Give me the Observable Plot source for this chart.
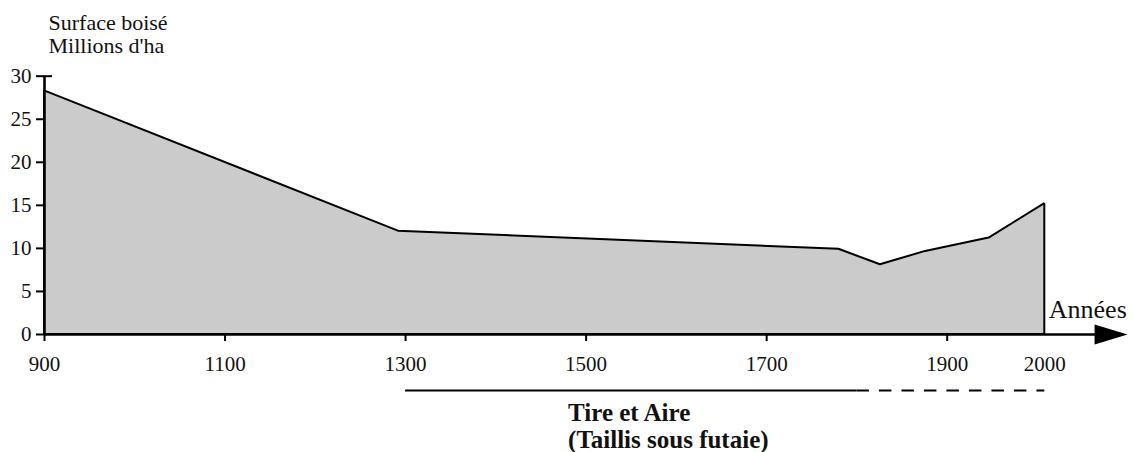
<!DOCTYPE html>
<html>
<head>
<meta charset="utf-8">
<script src="https://cdn.jsdelivr.net/npm/d3@7"></script>
<script src="https://cdn.jsdelivr.net/npm/@observablehq/plot@0.6"></script>
<style>
  html, body { margin: 0; padding: 0; background: #fff; }
  svg text { font-family: 'Liberation Serif', 'Times New Roman', serif; }
</style>
</head>
<body>
<div id="chart"></div>
<script>
// ---- data ----
const years   = [900, 1292, 1780, 1826, 1876, 1943, 2000];
const surface = [28.3, 12.0, 9.9, 8.1, 9.65, 11.2, 15.2];

const yTicks = [0, 5, 10, 15, 20, 25, 30];
const xTickMarks = [900, 1100, 1300, 1500, 1700, 1900];
const xTickLabels = [900, 1100, 1300, 1500, 1700, 1900, 2000];

const yTitle = ["Surface boisé", "Millions d'ha"];
const xTitle = "Années";

const periodStarts = [1300, 1800];
const periodEnds   = [1800, 2000];
const periodDashed = [false, true];
const periodLabel  = ["Tire et Aire", "(Taillis sous futaie)"];
const periodLabelYear = 1480;

const axisEnd = 2051; // where the x-axis arrowhead starts (year units)

// ---- tables built from the arrays ----
const data = years.map((y, i) => ({year: y, value: surface[i]}));
const periods = periodStarts.map((s, i) => ({from: s, to: periodEnds[i], dashed: periodDashed[i]}));

const font = "'Liberation Serif', 'Times New Roman', serif";
const ink = "#111";

const arrowHead = {
  draw(context) {
    context.moveTo(0, -10);
    context.lineTo(33, 0);
    context.lineTo(0, 10);
    context.closePath();
  }
};

const chart = Plot.plot({
  width: 1134,
  height: 452,
  marginLeft: 44,
  marginRight: 90,
  marginTop: 76,
  marginBottom: 118,
  style: {fontFamily: font, background: "#fff", color: ink, overflow: "visible"},
  x: {type: "linear", domain: [900, 1900, 2000], range: [44, 946.7, 1044.3]},
  y: {type: "linear", domain: [0, 30], range: [334, 75.7]},
  marks: [
    Plot.areaY(data, {x: "year", y: "value", fill: "#cbcbcb", stroke: "#000", strokeWidth: 2, strokeLinejoin: "miter"}),
    // y axis line and ticks
    Plot.ruleX([900], {y1: 0, y2: 30, stroke: "#000", strokeWidth: 2.6}),
    Plot.axisY({ticks: yTicks, tickSize: 8, tickPadding: 5, fontSize: 21, fontFamily: font, label: null, stroke: "#000", strokeWidth: 2, color: ink}),
    Plot.axisY({ticks: [30], tickSize: 8, dx: 8, tickFormat: null, text: null, label: null, stroke: "#000", strokeWidth: 2}),
    // x axis line + arrow
    Plot.ruleY([0], {x1: 900, x2: axisEnd + 5, stroke: "#000", strokeWidth: 2.4}),
    Plot.dot([axisEnd], {x: d => d, y: 0, symbol: arrowHead, fill: "#000", stroke: null, r: 10}),
    Plot.axisX({ticks: xTickMarks, tickSize: 7, text: null, label: null, stroke: "#000", strokeWidth: 2}),
    Plot.axisX({ticks: xTickLabels, tickSize: 0, tickPadding: 22, tickFormat: d => String(d), fontSize: 21, fontFamily: font, label: null, color: ink}),
    Plot.text([xTitle], {x: 2000, y: 0, text: d => d, textAnchor: "start", lineAnchor: "top", dx: 4, dy: -35, fontSize: 26, fontFamily: font, fill: ink}),
    // y title
    Plot.text([yTitle.join("\n")], {x: 900, y: 30, text: d => d, textAnchor: "start", lineAnchor: "top", dx: 4, dy: -62.3, fontSize: 22, fontFamily: font, lineHeight: 23 / 22, fill: ink}),
    // period bar under the axis
    Plot.ruleY(periods.filter(d => !d.dashed), {x1: "from", x2: "to", y: 0, dy: 56, stroke: "#000", strokeWidth: 2.2}),
    Plot.ruleY(periods.filter(d => d.dashed), {x1: "from", x2: "to", y: 0, dy: 56, stroke: "#000", strokeWidth: 2.2, strokeDasharray: "12.5,10"}),
    Plot.text([periodLabel.join("\n")], {x: periodLabelYear, y: 0, text: d => d, textAnchor: "start", lineAnchor: "top", dy: 67.2, fontSize: 25, fontWeight: "bold", fontFamily: font, lineHeight: 27 / 25, fill: ink})
  ]
});

document.getElementById("chart").appendChild(chart);
</script>
</body>
</html>
